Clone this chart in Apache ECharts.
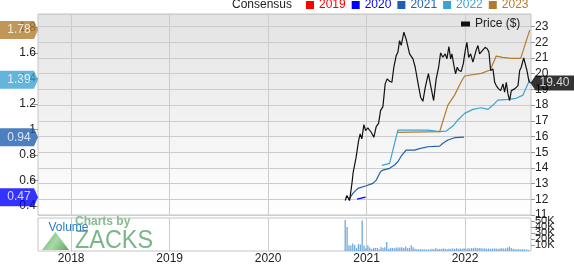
<!DOCTYPE html>
<html><head><meta charset="utf-8">
<script src="https://cdn.jsdelivr.net/npm/echarts@6/dist/echarts.min.js"></script>
<style>html,body{margin:0;padding:0;background:#fff}#c{width:574px;height:265px}</style>
</head><body><div id="c"></div>
<script>
// ---------- data (x values are decimal years) ----------
const consensusNames = ['2019', '2020', '2021', '2022', '2023'];
const consensusColors = ['#ff0000', '#0000ff', '#1f5fb0', '#3ca2d3', '#b27c30'];

const c2019Years = [];
const c2019Values = [];
const c2020Years = [2020.904, 2020.990];
const c2020Values = [0.455, 0.47];
const c2021Years = [2020.817, 2020.861, 2020.912, 2020.996, 2021.064, 2021.098, 2021.142, 2021.166, 2021.234, 2021.285, 2021.318, 2021.359, 2021.402, 2021.488, 2021.521, 2021.572, 2021.623, 2021.742, 2021.775, 2021.826, 2021.894, 2021.989];
const c2021Values = [0.447, 0.50, 0.539, 0.559, 0.578, 0.604, 0.669, 0.682, 0.696, 0.722, 0.748, 0.80, 0.839, 0.839, 0.847, 0.857, 0.865, 0.87, 0.892, 0.918, 0.936, 0.94];
const c2022Years = [2021.155, 2021.234, 2021.318, 2021.623, 2021.742, 2021.809, 2021.877, 2021.928, 2021.996, 2022.080, 2022.165, 2022.233, 2022.284, 2022.334, 2022.436, 2022.520, 2022.588, 2022.657];
const c2022Values = [0.719, 0.735, 0.996, 0.996, 0.983, 0.988, 1.027, 1.075, 1.127, 1.158, 1.171, 1.158, 1.192, 1.231, 1.237, 1.245, 1.27, 1.39];
const c2023Years = [2021.318, 2021.742, 2021.826, 2021.894, 2021.961, 2021.996, 2022.165, 2022.256, 2022.317, 2022.385, 2022.470, 2022.565, 2022.657];
const c2023Values = [0.978, 0.983, 1.192, 1.27, 1.375, 1.42, 1.44, 1.467, 1.576, 1.566, 1.558, 1.558, 1.78];

const priceYears = [2020.783, 2020.800, 2020.827, 2020.851, 2020.864, 2020.894, 2020.919, 2020.935, 2020.952, 2020.973, 2020.990, 2021.013, 2021.047, 2021.074, 2021.098, 2021.122, 2021.142, 2021.166, 2021.189, 2021.209, 2021.234, 2021.257, 2021.277, 2021.301, 2021.318, 2021.335, 2021.352, 2021.379, 2021.402, 2021.437, 2021.471, 2021.494, 2021.521, 2021.549, 2021.572, 2021.596, 2021.613, 2021.628, 2021.643, 2021.681, 2021.707, 2021.732, 2021.752, 2021.775, 2021.799, 2021.816, 2021.836, 2021.854, 2021.867, 2021.887, 2021.904, 2021.921, 2021.938, 2021.961, 2021.982, 2022.002, 2022.019, 2022.037, 2022.057, 2022.080, 2022.098, 2022.114, 2022.131, 2022.148, 2022.165, 2022.182, 2022.205, 2022.226, 2022.243, 2022.260, 2022.284, 2022.301, 2022.317, 2022.341, 2022.362, 2022.385, 2022.402, 2022.419, 2022.436, 2022.453, 2022.470, 2022.487, 2022.504, 2022.520, 2022.538, 2022.555, 2022.571, 2022.596, 2022.612, 2022.629, 2022.649, 2022.665];
const priceValues = [11.92, 12.24, 11.92, 12.98, 13.72, 14.68, 15.74, 16.16, 15.85, 16.76, 16.38, 16.55, 16.27, 15.95, 16.63, 16.84, 17.65, 17.9, 19.35, 19.67, 19.52, 19.45, 20.41, 21.15, 21.36, 22.1, 21.8, 22.64, 22.2, 21.26, 20.94, 20.41, 19.45, 18.5, 18.24, 19.13, 19.6, 20.0, 19.5, 18.29, 19.67, 20.41, 21.32, 21.05, 21.26, 20.94, 21.73, 20.94, 21.26, 20.52, 19.99, 20.41, 20.2, 20.15, 20.62, 21.47, 22.0, 21.04, 21.26, 20.73, 21.15, 21.51, 21.79, 21.26, 21.26, 21.51, 21.68, 21.58, 21.36, 20.2, 20.3, 19.45, 19.24, 19.03, 18.92, 19.35, 18.82, 19.45, 18.71, 18.29, 18.92, 18.82, 19.03, 18.92, 19.24, 20.2, 20.41, 21.0, 20.94, 20.2, 19.52, 19.40];

const volumeStartYear = 2020.783;   // first weekly bar
const volumeValues = [51600, 40000, 9400, 9000, 12500, 10000, 4700, 11500, 11000, 51000, 9000, 4700, 9400, 5700, 3100, 5200, 5200, 5200, 3100, 6800, 5200, 6200, 15000, 3600, 5200, 5200, 4700, 5700, 5700, 5700, 6200, 5200, 7300, 4700, 5200, 9400, 6200, 3600, 3100, 3100, 3100, 2600, 2600, 2600, 2600, 2600, 3600, 3100, 5000, 3100, 3100, 3600, 4200, 3600, 3100, 3600, 3600, 4200, 3600, 4700, 3600, 4200, 3600, 4700, 3600, 4700, 4200, 4700, 4700, 5700, 4700, 5200, 4700, 4200, 4700, 3600, 4200, 3600, 4200, 4200, 4200, 3600, 4200, 4700, 4200, 4200, 5700, 7300, 5200, 3600, 3100, 3100, 3100, 2600, 3100, 2600, 2600, 2100];

const yearTicks = [2018, 2019, 2020, 2021, 2022];
const consensusTicks = [0.4, 0.6, 0.8, 1, 1.2, 1.4, 1.6, 1.8];

// ---------- build ----------
const FONT = '"Liberation Sans", Arial, Helvetica, sans-serif';
const X_MIN = 2017.663, X_MAX = 2022.670;
const zip = (xs, ys) => xs.map((x, i) => [x, ys[i]]);
const consensusData = [
  zip(c2019Years, c2019Values), zip(c2020Years, c2020Values), zip(c2021Years, c2021Values),
  zip(c2022Years, c2022Values), zip(c2023Years, c2023Values)
];
const weekInYears = 7 / 365.25;
const volumeData = volumeValues.map((v, i) => [volumeStartYear + i * weekInYears, v]);
const priceData = zip(priceYears, priceValues);

const consensusSeries = consensusNames.map((n, i) => ({
  name: n, type: 'line', xAxisIndex: 0, yAxisIndex: 0, data: consensusData[i],
  symbol: 'none', showSymbol: false, color: consensusColors[i],
  lineStyle: { width: 1.2, color: consensusColors[i] }, z: 3
}));

const tagData = [];
consensusData.forEach((d, i) => {
  if (d.length) tagData.push({ value: [X_MIN, d[d.length - 1][1]], itemStyle: { color: consensusColors[i] } });
});

const lastPrice = priceData[priceData.length - 1];

const option = {
  animation: false,
  textStyle: { fontFamily: FONT },
  title: { text: 'Consensus', left: 232, top: -1, padding: 0,
    textStyle: { fontSize: 12, fontWeight: 'normal', color: '#222', fontFamily: FONT } },
  legend: [
    { data: consensusNames.map((n, i) => ({ name: n, textStyle: { color: consensusColors[i] } })),
      left: 306, top: -1, padding: 0, icon: 'rect', itemWidth: 8, itemHeight: 8, itemGap: 6,
      selectedMode: false, textStyle: { fontSize: 12, fontFamily: FONT } },
    { data: [{ name: 'Price ($)' }], left: 461, top: 18, padding: 0, icon: 'rect',
      itemWidth: 9, itemHeight: 5, selectedMode: false,
      textStyle: { fontSize: 12, color: '#222', fontFamily: FONT } }
  ],
  grid: [
    { left: 38, right: 43, top: 14, height: 201, show: true, borderColor: '#c4c4c4', borderWidth: 1,
      backgroundColor: { type: 'linear', x: 0, y: 0, x2: 0, y2: 1,
        colorStops: [{ offset: 0, color: '#e3e3e3' }, { offset: 1, color: '#ffffff' }] } },
    { left: 38, right: 43, top: 218, height: 36, show: true, borderColor: '#c4c4c4', borderWidth: 1,
      backgroundColor: '#ffffff' }
  ],
  xAxis: [
    { type: 'value', gridIndex: 0, min: X_MIN, max: X_MAX, splitNumber: 5,
      axisLine: { show: false }, axisTick: { show: false, customValues: yearTicks },
      axisLabel: { show: false, customValues: yearTicks },
      splitLine: { show: true, lineStyle: { color: '#cccccc' } } },
    { type: 'value', gridIndex: 1, min: X_MIN, max: X_MAX, splitNumber: 5,
      axisLine: { show: false }, axisTick: { show: false, customValues: yearTicks },
      axisLabel: { show: true, customValues: yearTicks, margin: 2, fontSize: 12, color: '#222',
        formatter: v => String(Math.round(v)) },
      splitLine: { show: true, lineStyle: { color: '#cccccc' } } }
  ],
  yAxis: [
    { type: 'value', gridIndex: 0, position: 'left', min: 0.33, max: 1.906, splitNumber: 8,
      axisLine: { show: false },
      axisTick: { show: true, length: 7, customValues: consensusTicks, lineStyle: { color: '#999' } },
      axisLabel: { margin: 2, fontSize: 12, color: '#222', customValues: consensusTicks },
      splitLine: { show: false } },
    { type: 'value', gridIndex: 0, position: 'right', min: 11, max: 23.8, interval: 1,
      axisLine: { show: false },
      axisTick: { show: true, length: 4, lineStyle: { color: '#999' } },
      axisLabel: { margin: 4, fontSize: 12, color: '#222', showMaxLabel: false },
      splitLine: { show: true, lineStyle: { color: '#cccccc' } } },
    { type: 'value', gridIndex: 1, position: 'right', min: 0, max: 55000, interval: 10000,
      axisLine: { show: false },
      axisTick: { show: true, length: 4, lineStyle: { color: '#999' } },
      axisLabel: { margin: 4, fontSize: 11, color: '#222', showMaxLabel: false,
        formatter: v => v === 0 ? '0' : (v / 1000) + 'K' },
      splitLine: { show: false } }
  ],
  series: [
    ...consensusSeries,
    { name: 'Price ($)', type: 'line', xAxisIndex: 0, yAxisIndex: 1, data: priceData,
      symbol: 'none', showSymbol: false, color: '#111', lineStyle: { width: 1.2, color: '#111' }, z: 4 },
    { name: 'Volume', type: 'bar', xAxisIndex: 1, yAxisIndex: 2, data: volumeData,
      barWidth: 1.3, itemStyle: { color: '#72a9de' }, z: 3 },
    { name: 'consensus tags', type: 'scatter', xAxisIndex: 0, yAxisIndex: 0, data: tagData,
      clip: false, symbol: 'path://M0,0 L34,0 L38,9 L34,18 L0,18 Z', symbolSize: [38, 18],
      symbolOffset: [-19, 0], z: 10, silent: true,
      label: { show: true, position: 'inside', color: '#fff', fontSize: 12, fontFamily: FONT,
        formatter: p => p.value[1].toFixed(2) } },
    { name: 'price tag', type: 'scatter', xAxisIndex: 0, yAxisIndex: 1, data: [lastPrice],
      clip: false, symbol: 'path://M5,0 L44,0 L44,14 L5,14 L0,7 Z', symbolSize: [44, 15],
      symbolOffset: [22, 0], itemStyle: { color: '#000' }, z: 10, silent: true,
      label: { show: true, position: 'inside', color: '#fff', fontSize: 12, fontFamily: FONT,
        offset: [2, 0], formatter: p => p.value[1].toFixed(2) } }
  ],
  graphic: [
    { type: 'polygon', z: 10, shape: { points: [[42, 250], [55.5, 232], [69, 250]] },
      style: { fill: { type: 'linear', x: 0, y: 0, x2: 1, y2: 1,
        colorStops: [{ offset: 0, color: '#5fae66' }, { offset: 0.5, color: '#a9d9a7' }, { offset: 1, color: '#5aa862' }] } } },
    { type: 'text', z: 10, x: 75, y: 222,
      style: { text: 'Charts by', fontSize: 12, fontWeight: 'bold', fill: '#85bd92', fontFamily: FONT, verticalAlign: 'middle' } },
    { type: 'text', z: 10, x: 75, y: 241, scaleX: 0.9,
      style: { text: 'ZACKS', fontSize: 26, fill: '#7ab687', fontFamily: FONT, verticalAlign: 'middle' } },
    { type: 'text', z: 11, x: 48.5, y: 228,
      style: { text: 'Volume', fontSize: 12, fill: '#2b7bc6', fontFamily: FONT, verticalAlign: 'middle' } }
  ]
};

const chart = echarts.init(document.getElementById('c'), null, { renderer: 'canvas' });
chart.setOption(option);
</script>
</body></html>
